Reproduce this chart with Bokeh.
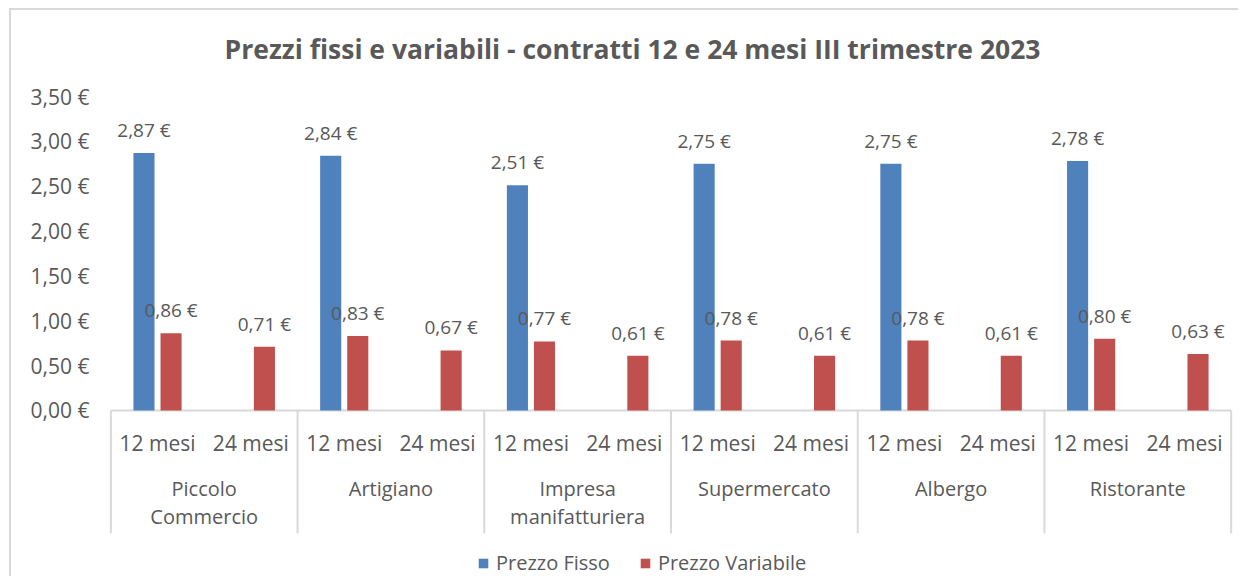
from bokeh.plotting import figure
from bokeh.models import (Range1d, FixedTicker, CustomJSTickFormatter, ColumnDataSource,
                          Legend, LegendItem)
from bokeh.core.properties import value
from bokeh.embed import file_html
from bokeh.resources import INLINE

# ---------------- data ----------------
title_text = "Prezzi fissi e variabili - contratti 12 e 24 mesi III trimestre 2023"
groups = ["Piccolo\nCommercio", "Artigiano", "Impresa\nmanifatturiera",
          "Supermercato", "Albergo", "Ristorante"]
durations = ["12 mesi", "24 mesi"]
series_names = ["Prezzo Fisso", "Prezzo Variabile"]
fisso_12 = [2.87, 2.84, 2.51, 2.75, 2.75, 2.78]
variabile_12 = [0.86, 0.83, 0.77, 0.78, 0.78, 0.80]
variabile_24 = [0.71, 0.67, 0.61, 0.61, 0.61, 0.63]
y_ticks = [0.0, 0.5, 1.0, 1.5, 2.0, 2.5, 3.0, 3.5]
colors = ["#4F81BD", "#C0504D"]

# ---------------- style constants ----------------
FONT = "Open Sans"
TXT = "#595959"
LINE = "#D9D9D9"
BAR_W = 0.226
DODGE = 0.145

def eur(v):
    return f"{v:.2f}".replace(".", ",") + " €"

n = len(groups)
nd = len(durations)

# slot centres through the numeric scale: group i, duration j -> i*nd + j + 0.5
blue = ColumnDataSource(dict(
    x=[i * nd + 0.5 - DODGE for i in range(n)],
    top=fisso_12,
    label=[eur(v) for v in fisso_12],
))
red_x, red_top = [], []
for i in range(n):
    red_x.append(i * nd + 0.5 + DODGE)
    red_top.append(variabile_12[i])
    red_x.append(i * nd + 1.5 + DODGE)
    red_top.append(variabile_24[i])
red = ColumnDataSource(dict(x=red_x, top=red_top, label=[eur(v) for v in red_top]))

sub_src = ColumnDataSource(dict(
    x=[i * nd + j + 0.5 for i in range(n) for j in range(nd)],
    text=[durations[j] for i in range(n) for j in range(nd)],
))
grp_src = ColumnDataSource(dict(x=[i * nd + nd / 2 for i in range(n)], text=groups))
sep_src = ColumnDataSource(dict(x=[i * nd for i in range(n + 1)]))

p = figure(width=1229, height=568, output_backend="svg", toolbar_location=None,
           title=None, x_axis_location=None,
           x_range=Range1d(-0.1, n * nd + 0.1), y_range=Range1d(-1.873, 4.459),
           min_border_left=90, min_border_right=0, min_border_top=0, min_border_bottom=0)
p.styles = {"margin-left": "9px", "margin-top": "8px",
            "border-top": "2px solid #D9D9D9", "border-left": "2px solid #D9D9D9"}
p.xgrid.visible = False
p.ygrid.visible = False
p.outline_line_color = None
p.background_fill_color = "white"
p.border_fill_color = "white"

# y axis
p.yaxis.ticker = FixedTicker(ticks=y_ticks)
p.yaxis.formatter = CustomJSTickFormatter(code="return tick.toFixed(2).replace('.', ',') + ' €';")
p.yaxis.axis_line_color = None
p.yaxis.major_tick_line_color = None
p.yaxis.minor_tick_line_color = None
p.yaxis.major_tick_out = 0
p.yaxis.major_tick_in = 0
p.yaxis.major_label_standoff = 12
p.yaxis.major_label_text_font = FONT
p.yaxis.major_label_text_font_size = "21px"
p.yaxis.major_label_text_color = TXT

# category axis: baseline + separators + labels
p.segment(x0=0, x1=n * nd, y0=0, y1=0, line_color=LINE, line_width=2)
p.segment(x0="x", x1="x", y0=0, y1=-1.371, source=sep_src, line_color=LINE, line_width=2)
p.text(x="x", y=-0.357, text="text", source=sub_src, text_align="center",
       text_baseline="middle", text_font=value(FONT), text_font_size="21px",
       text_color=TXT)
p.text(x="x", y=-0.72, text="text", source=grp_src, text_align="center",
       text_baseline="top", text_font=value(FONT), text_font_size="20px",
       text_color=TXT, text_line_height=1.03)

# bars
rb = p.vbar(x="x", top="top", bottom=0, width=BAR_W, source=blue,
            fill_color=colors[0], line_color=None)
rr = p.vbar(x="x", top="top", bottom=0, width=BAR_W, source=red,
            fill_color=colors[1], line_color=None)

# data labels
for src in (blue, red):
    p.text(x="x", y="top", text="label", source=src, y_offset=-23,
           text_align="center", text_baseline="middle", text_font=value(FONT),
           text_font_size="19px", text_color=TXT)

# title (placed through the data scale, centred over the chart area)
p.text(x=[5.588], y=[4.035], text=[title_text], text_align="center",
       text_baseline="middle", text_font=value(FONT), text_font_style="bold",
       text_font_size="26.5px", text_color=TXT)

# legend
legend = Legend(items=[LegendItem(label=series_names[0], renderers=[rb]),
                       LegendItem(label=series_names[1], renderers=[rr])],
                orientation="horizontal", location=(376, 2),
                padding=0, margin=0, spacing=29, label_standoff=7,
                glyph_width=12, glyph_height=12, label_height=20,
                border_line_color=None, background_fill_alpha=0,
                label_text_font=FONT, label_text_font_size="20px",
                label_text_color=TXT)
p.add_layout(legend)

open("out.html", "w").write(file_html(p, INLINE))
